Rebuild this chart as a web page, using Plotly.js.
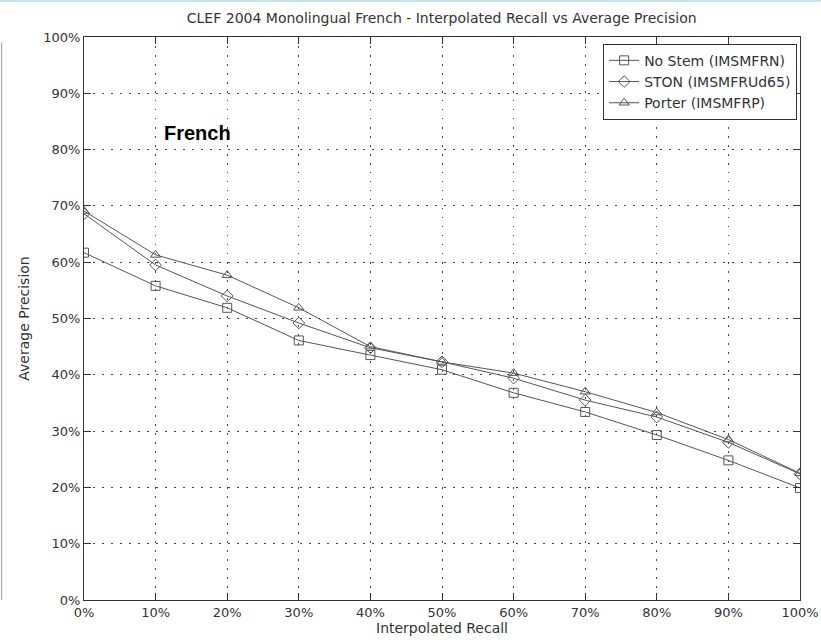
<!DOCTYPE html>
<html>
<head>
<meta charset="utf-8">
<script src="https://cdn.plot.ly/plotly-3.0.1.min.js"></script>
<style>html,body{margin:0;padding:0;background:#fff;}#chart{width:821px;height:644px;}</style>
</head>
<body>
<div id="chart"></div>
<script>
const recall = [0, 0.1, 0.2, 0.3, 0.4, 0.5, 0.6, 0.7, 0.8, 0.9, 1.0];
const noStem = [0.617, 0.558, 0.519, 0.461, 0.435, 0.409, 0.368, 0.334, 0.293, 0.248, 0.199];
const ston   = [0.686, 0.595, 0.540, 0.492, 0.448, 0.423, 0.394, 0.355, 0.325, 0.280, 0.224];
const porter = [0.691, 0.613, 0.577, 0.519, 0.450, 0.423, 0.403, 0.370, 0.333, 0.285, 0.225];
const seriesNames = ["No Stem (IMSMFRN)", "STON (IMSMFRUd65)", "Porter (IMSMFRP)"];
const tickVals = [0, 0.1, 0.2, 0.3, 0.4, 0.5, 0.6, 0.7, 0.8, 0.9, 1.0];
const tickText = ["0%", "10%", "20%", "30%", "40%", "50%", "60%", "70%", "80%", "90%", "100%"];

const lineCol = '#555';
const fam = 'DejaVu Sans, Liberation Sans, Arial';
function tr(y, name, sym) {
  return {
    x: recall, y: y, name: name, type: 'scatter', mode: 'lines+markers',
    line: {color: lineCol, width: 1},
    marker: {symbol: sym, size: 9, color: lineCol, line: {color: lineCol, width: 1}}
  };
}
const data = [
  tr(noStem, seriesNames[0], 'square-open'),
  tr(ston, seriesNames[1], 'diamond-open'),
  tr(porter, seriesNames[2], 'triangle-up-open')
];
const axisCommon = {
  tickvals: tickVals, ticktext: tickText,
  showline: true, linecolor: '#333', linewidth: 1, mirror: 'ticks',
  ticks: 'inside', ticklen: 7, tickcolor: '#333',
  showgrid: true, gridcolor: '#444', griddash: '1.5px,7.5px', gridwidth: 1,
  zeroline: false, tickfont: {family: fam, size: 13, color: '#333'}
};
const layout = {
  width: 821, height: 644,
  margin: {l: 84, r: 21, t: 37, b: 44},
  paper_bgcolor: '#fff', plot_bgcolor: '#fff',
  font: {family: fam, color: '#333'},
  title: {text: 'CLEF 2004 Monolingual French - Interpolated Recall vs Average Precision',
          font: {size: 14, color: '#333', family: fam}, x: 0.538, xanchor: 'center', y: 0.972, yanchor: 'middle'},
  xaxis: Object.assign({}, axisCommon, {range: [0, 1],
          title: {text: 'Interpolated Recall', font: {size: 14, color: '#333', family: fam}, standoff: 2}}),
  yaxis: Object.assign({}, axisCommon, {range: [0, 1],
          title: {text: 'Average Precision', font: {size: 14, color: '#333', family: fam}, standoff: 10}}),
  legend: {x: 0.996, y: 0.988, xanchor: 'right', yanchor: 'top',
           bordercolor: '#333', borderwidth: 1, bgcolor: '#fff',
           font: {size: 14, color: '#333', family: fam}, tracegroupgap: 0, itemwidth: 30},
  annotations: [{text: '<b>French</b>', xref: 'paper', yref: 'paper', x: 0.158, y: 0.83,
                 xanchor: 'center', yanchor: 'middle', showarrow: false,
                 font: {size: 20, color: '#000', family: 'Liberation Sans, Arial'}}],
  shapes: [
    {type: 'line', xref: 'paper', yref: 'paper', x0: -0.117, x1: 1.029, y0: 1.064, y1: 1.064,
     line: {color: '#bfe3e6', width: 2}},
    {type: 'line', xref: 'paper', yref: 'paper', x0: -0.115, x1: -0.115, y0: 0.0, y1: 0.99,
     line: {color: '#999', width: 1}}
  ],
  showlegend: true
};
Plotly.newPlot('chart', data, layout, {displayModeBar: false, staticPlot: true});
</script>
</body>
</html>
